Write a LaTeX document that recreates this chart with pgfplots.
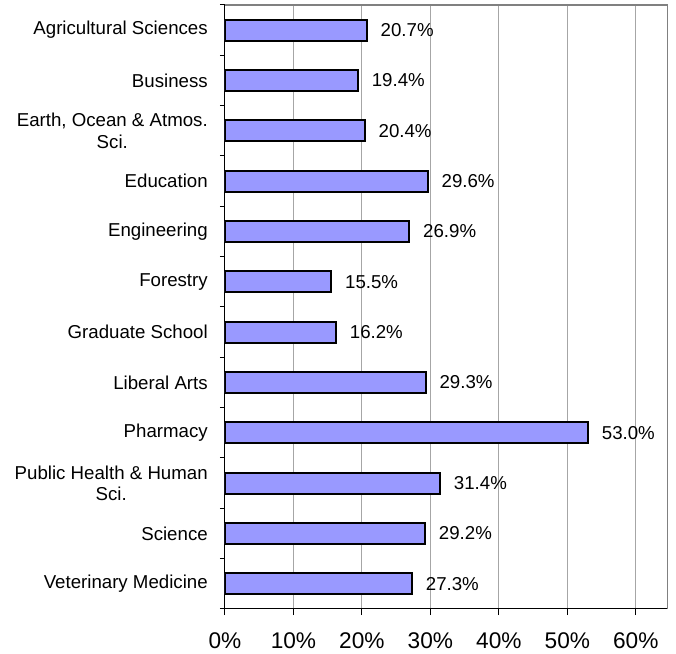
\documentclass[border=0pt]{standalone}
\usepackage{fontspec}
\setmainfont{Liberation Sans}
\usepackage{pgfplots}
\pgfplotsset{compat=1.18}
\definecolor{barfill}{HTML}{9999FF}
\definecolor{framegray}{HTML}{808080}
\definecolor{gridgray}{HTML}{A6A6A6}
\begin{document}
\begin{tikzpicture}
\useasboundingbox (-168.75pt,-33.75pt) rectangle (338.25pt,456.75pt);
\begin{axis}[
  at={(0,0)}, anchor=south west,
  scale only axis, width=332.25pt, height=453pt,
  xbar, bar width=15.75pt,
  xmin=0, xmax=64.7, ymin=-0.5, ymax=11.5,
  axis x line*=bottom, axis y line*=left,
  axis line style={-, black, line width=0.75pt},
  tick align=outside,
  major tick length=4.5pt, minor tick length=3.75pt,
  xtick={0,10,...,60},
  xticklabel={\pgfmathprintnumber{\tick}\%},
  /pgf/number format/assume math mode=true,
  xticklabel style={font=\fontsize{17}{20}\selectfont, inner sep=0pt, anchor=north, yshift=-12.75pt},
  ytick={0,...,11},
  yticklabels={Veterinary Medicine, Science, {Public Health \& Human\\Sci.}, Pharmacy, Liberal Arts, Graduate School, Forestry, Engineering, Education, {Earth, Ocean \& Atmos.\\Sci.}, Business, Agricultural Sciences},
  yticklabel style={font=\fontsize{14}{16}\selectfont, align=center, inner sep=0pt, anchor=east, xshift=-8.25pt},
  minor ytick={-0.5,0.5,...,11.5},
  major y tick style={draw=none},
  every tick/.style={black, line width=0.75pt},
  xmajorgrids, grid style={gridgray, line width=0.75pt},
  point meta=x,
  nodes near coords={\pgfmathprintnumber[fixed,fixed zerofill,precision=1]{\pgfplotspointmeta}\%},
  every node near coord/.style={font=\fontsize{14}{16}\selectfont, anchor=west, inner sep=0pt, xshift=9.75pt, black},
]
\addplot[fill=barfill, draw=black, line width=1.5pt] coordinates {
  (27.3,0) (29.2,1) (31.4,2) (53.0,3) (29.3,4) (16.2,5)
  (15.5,6) (26.9,7) (29.6,8) (20.4,9) (19.4,10) (20.7,11)
};
\draw[framegray, line width=1.3pt] (rel axis cs:0,1) -- (rel axis cs:1,1) -- (rel axis cs:1,0);
\end{axis}
\end{tikzpicture}
\end{document}
